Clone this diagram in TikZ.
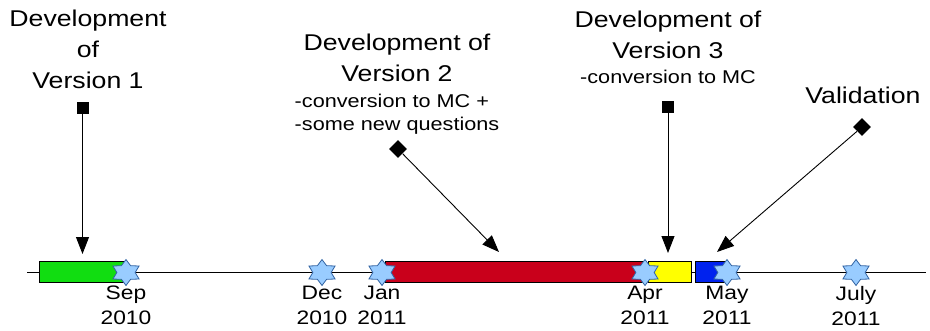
\documentclass[tikz,border=0pt]{standalone}
\usepackage{fontspec}
\setmainfont{Liberation Sans}[FakeStretch=1.17]
\usetikzlibrary{positioning,shapes.geometric,arrows.meta}
\definecolor{greenphase}{HTML}{11DD11}
\definecolor{redphase}{HTML}{C9001B}
\definecolor{yellowphase}{HTML}{FFFF00}
\definecolor{bluephase}{HTML}{0022EE}
\definecolor{starfill}{HTML}{99CCFF}
\definecolor{starline}{HTML}{3465A4}

\begin{document}
\begin{tikzpicture}[x=1pt, y=-1pt, line width=0.9pt,
  title/.style = {inner sep=0pt, align=center, font=\fontsize{22.8}{31}\selectfont},
  note/.style = {inner sep=0pt, align=left, font=\fontsize{18.5}{23}\selectfont},
  datelabel/.style = {inner sep=0pt, align=center, font=\fontsize{19.5}{25}\selectfont},
  phase/.style = {draw, inner sep=0pt, minimum height=21pt, anchor=west},
  datestar/.style = {draw=starline, fill=starfill, star, star points=6, star point ratio=1.65, minimum size=26pt, inner sep=0pt, line width=0.8pt, xscale=1.16, transform shape},
  sqmark/.style = {fill=black, inner sep=0pt, minimum size=12pt},
  dmmark/.style = {fill=black, diamond, inner sep=0pt, minimum size=18pt},
  conn/.style = {-{Triangle[length=17pt,width=13pt]}}]
  \useasboundingbox (0,0) rectangle (930,330);
  % titles
  \node[title, anchor=north] (t1) at (88,10) {Development\\of\\Version 1};
  \node[title, anchor=north] (t2) at (397,34) {Development of\\Version 2};
  \node[note, below=11pt of t2] (n2) {-conversion to MC +\\-some new questions};
  \node[title, anchor=north] (t3) at (668,11) {Development of\\Version 3};
  \node[note, below=10pt of t3] (n3) {-conversion to MC};
  \node[title, anchor=north] (t4) at (863,87) {Validation};
  % time line
  \coordinate (tl-start) at (27,272);
  \coordinate (tl-end) at (926,272);
  \draw (tl-start) -- (tl-end);
  % phases
  \node[phase, fill=greenphase, minimum width=87pt] (p1) at (39,271.5) {};
  \node[phase, fill=redphase, minimum width=259pt] (p2) at (385,271.5) {};
  \node[phase, fill=yellowphase, minimum width=43pt] (p3) at (648,271.5) {};
  \node[phase, fill=bluephase, minimum width=30pt] (p4) at (695,271.5) {};
  % dates
  \node[datestar] (sep) at (126,272.5) {};
  \node[datestar] (dec) at (322,272.5) {};
  \node[datestar] (jan) at (382,272.5) {};
  \node[datestar] (apr) at (645,272.5) {};
  \node[datestar] (may) at (727,272.5) {};
  \node[datestar] (jul) at (856,272.5) {};
  \node[datelabel, below=-0.5pt of sep] (sep-lbl) {Sep\\2010};
  \node[datelabel, below=-0.5pt of dec] (dec-lbl) {Dec\\2010};
  \node[datelabel, below=-0.5pt of jan] (jan-lbl) {Jan\\2011};
  \node[datelabel, below=-0.5pt of apr] (apr-lbl) {Apr\\2011};
  \node[datelabel, below=-0.5pt of may] (may-lbl) {May\\2011};
  \node[datelabel, below=-0.5pt of jul] (jul-lbl) {July\\2011};
  % pointers
  \node[sqmark] (m1) at (82.5,107.5) {};
  \node[dmmark] (m2) at (398,149) {};
  \node[sqmark] (m3) at (668,107) {};
  \node[dmmark] (m4) at (862,127) {};
  \coordinate (e1) at (82.5,254);
  \coordinate (e2) at (499,252);
  \coordinate (e3) at (668,253);
  \coordinate (e4) at (717,252);
  \draw[conn] (m1) -- (e1);
  \draw[conn] (m2) -- (e2);
  \draw[conn] (m3) -- (e3);
  \draw[conn] (m4) -- (e4);
\end{tikzpicture}
\end{document}
